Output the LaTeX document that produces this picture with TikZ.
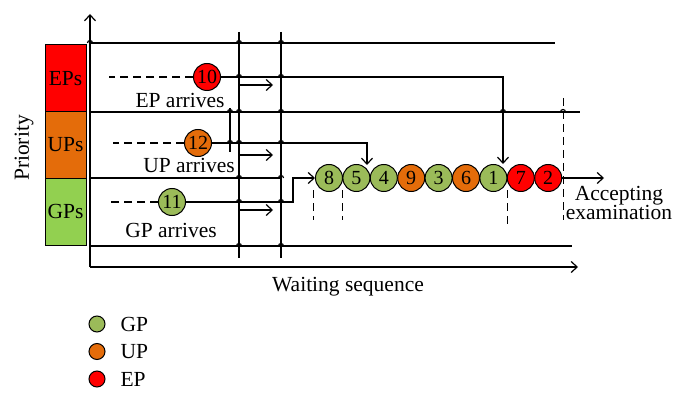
\documentclass[tikz,border=0pt]{standalone}
\usepackage{fontspec}
\setmainfont{Liberation Serif}
\usetikzlibrary{arrows.meta}

\definecolor{epred}{HTML}{FF0000}
\definecolor{uporange}{HTML}{E46C0A}
\definecolor{gpgreen}{HTML}{9BBB59}
\definecolor{gpbargreen}{HTML}{92D050}

% x, y of a crossing
\newcommand{\drawhop}[2]{
	\draw (#1 - 2.5, #2) arc[start angle=180, end angle=0, radius=2.5pt];
}
% y of a short arrow between the two time lines
\newcommand{\drawstep}[1]{
	\draw[arr] (239, #1) -- (273, #1);
}

\begin{document}
\begin{tikzpicture}[x=1pt, y=1pt, line width=1.2pt,
	every node/.style={inner sep=0pt, font=\fontsize{21.5}{24}\selectfont},
	pcirc/.style={circle, draw, line width=1pt, minimum size=27pt, font=\fontsize{20}{20}\selectfont},
	lcirc/.style={circle, draw, line width=1pt, minimum size=16pt},
	prbar/.style={draw, line width=1pt, minimum width=41pt, minimum height=66.7pt},
	arr/.style={-{Straight Barb[length=6pt, width=11pt]}},
	dashline/.style={dash pattern=on 8pt off 5pt}]
\useasboundingbox (0,0) rectangle (688,-401);

% priority bar
\node[prbar, fill=epred] (ebar) at (65.5,-78.3) {EPs};
\node[prbar, fill=uporange] (ubar) at (65.5,-145) {UPs};
\node[prbar, fill=gpbargreen] (gbar) at (65.5,-211.7) {GPs};
\node[rotate=90] (prio) at (24,-148) {Priority};

% axes and lanes
\draw[arr] (90,-267) -- (90,-14);
\draw[arr] (90,-267) -- (578,-267);
\draw (90,-43) -- (555,-43);
\draw (90,-112) -- (580,-112);
\draw (90,-178) -- (281,-178);
\draw (90,-246) -- (572,-246);
\draw (239,-32) -- (239,-258);
\draw (281,-32) -- (281,-258);
\draw (230,-108) -- (230,-152);

% waiting queue
\foreach \n/\col [count=\i from 0] in {8/gpgreen, 5/gpgreen, 4/gpgreen, 9/uporange, 3/gpgreen, 6/uporange, 1/gpgreen, 7/epred, 2/epred}
	\node[pcirc, fill=\col] (q\n) at ({329 + 27.4*\i}, -178) {\n};

% arriving patients
\node[pcirc, fill=epred] (p10) at (207,-77) {10};
\node[pcirc, fill=uporange] (p12) at (198,-143) {12};
\node[pcirc, fill=gpgreen] (p11) at (172,-202) {11};
\draw[dashline] (p10.west) -- (109,-77);
\draw[dashline] (p12.west) -- (113,-143);
\draw[dashline] (p11.west) -- (110,-202);

\node (epl) at (180,-100) {EP arrives};
\node (upl) at (189,-165) {UP arrives};
\node (gpl) at (171,-230) {GP arrives};

\coordinate (insE) at (503,-164);
\coordinate (insU) at (367,-165);
\coordinate (bendG) at (293,-178);
\coordinate (accept) at (604,-178);
\draw[arr] (p10) -| (insE);
\draw[arr] (p12) -| (insU);
\draw[arr] (p11) -| (bendG) -- (q8);
\draw[arr] (q2) -- (accept);

\drawstep{-85}
\drawstep{-155}
\drawstep{-210}

\draw[dashline, line width=1pt] (313,-190) -- (313,-220);
\draw[dashline, line width=1pt] (342,-190) -- (342,-220);
\draw[dashline, line width=1pt] (507,-190) -- (507,-225);
\draw[dashline, line width=1pt] (563,-98) -- (563,-220);

% line hops
\foreach \hx in {239, 281}
{
	\foreach \hy in {-43, -77, -112, -143, -178, -202, -246}
	{
		\drawhop{\hx}{\hy}
	}
}
\drawhop{90}{-43}
\drawhop{230}{-112}
\drawhop{230}{-143}
\drawhop{503}{-112}
\drawhop{563}{-112}

\node[align=center, font=\fontsize{21.5}{15}\selectfont] (acc) at (619,-203) {Accepting\\examination};
\node (wait) at (348,-287) {Waiting sequence};

% legend
\foreach \col/\lab [count=\i from 0] in {gpgreen/GP, uporange/UP, epred/EP}
{
	\node[lcirc, fill=\col] (l\lab) at (97, {-324 - 27.5*\i}) {};
	\node[anchor=west] (t\lab) at (120, {-324 - 27.5*\i}) {\lab};
}
\end{tikzpicture}
\end{document}
